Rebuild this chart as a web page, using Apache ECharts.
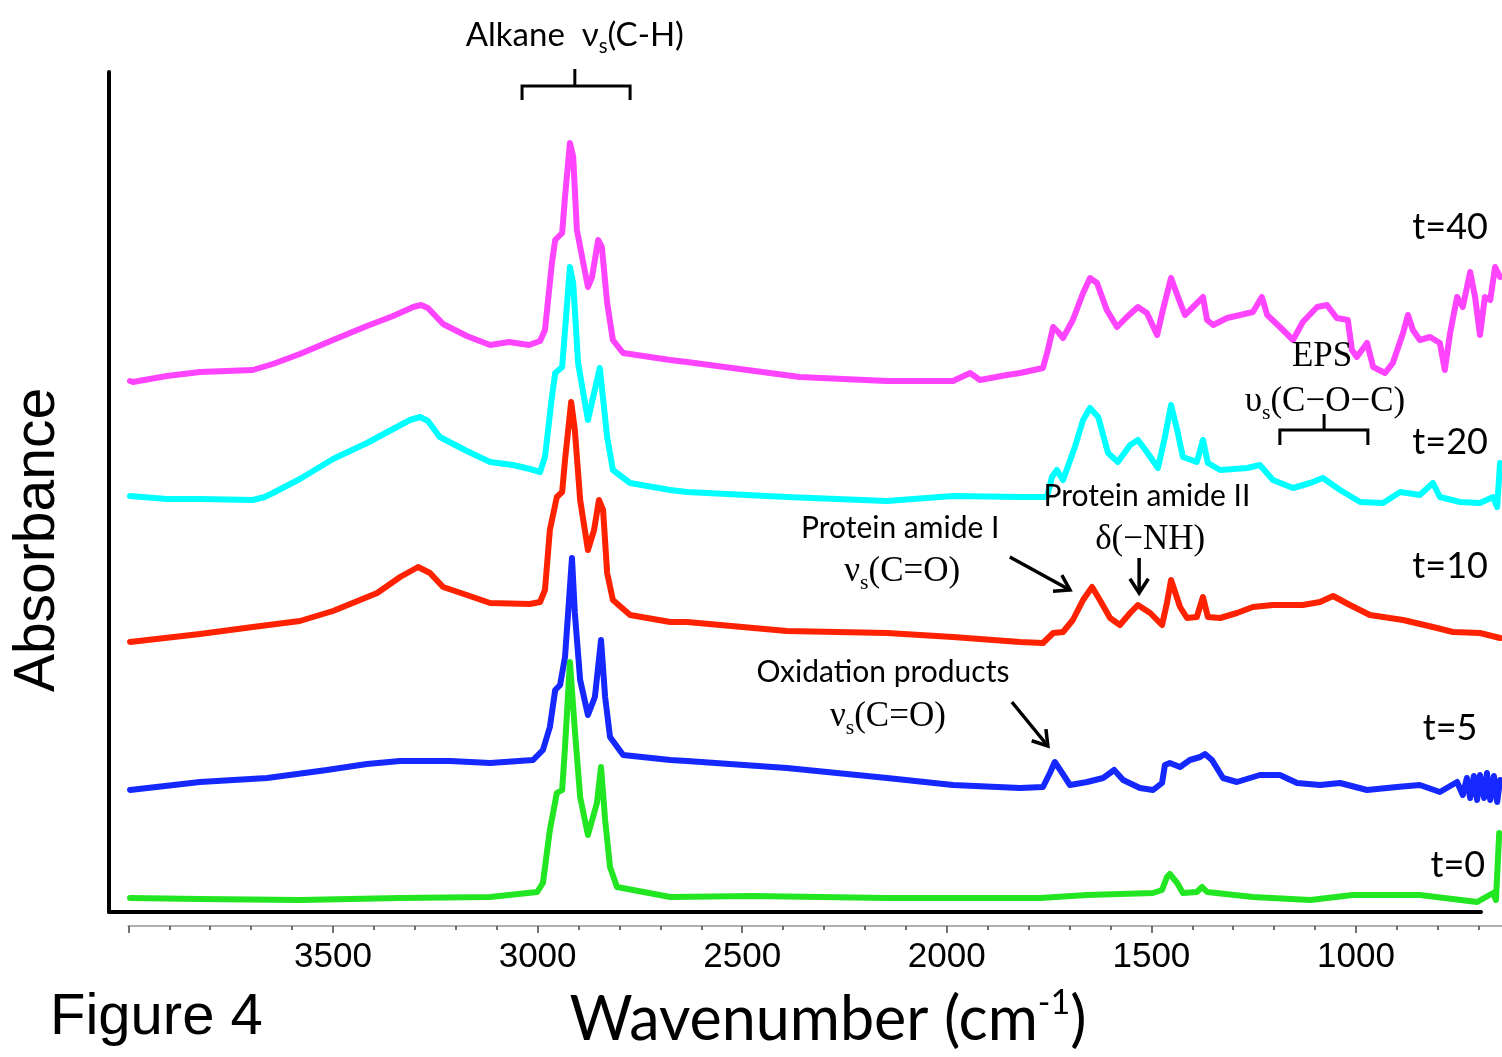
<!DOCTYPE html>
<html>
<head>
<meta charset="utf-8">
<script src="https://cdn.jsdelivr.net/npm/echarts@6/dist/echarts.min.js"></script>
<style>
html,body{margin:0;padding:0;background:#fff;}
#c{width:1502px;height:1057px;}
</style>
</head>
<body>
<div id="c"></div>
<script>
// ---- Data: [wavenumber (cm-1), absorbance (offset, a.u.)] ----
const xTickLabels = [3500, 3000, 2500, 2000, 1500, 1000];

const t40 = [[3996,5.31],[3989,5.30],[3906,5.36],[3825,5.40],[3696,5.42],[3647,5.48],[3581,5.58],[3500,5.72],[3417,5.86],[3353,5.96],[3304,6.05],[3285,6.07],[3268,6.04],[3231,5.88],[3173,5.76],[3116,5.67],[3070,5.70],[3021,5.67],[2994,5.71],[2982,5.82],[2965,6.49],[2957,6.72],[2940,6.79],[2933,7.15],[2921,7.69],[2913,7.55],[2904,6.82],[2877,6.25],[2867,6.35],[2852,6.72],[2843,6.65],[2830,6.09],[2816,5.72],[2791,5.59],[2676,5.52],[2635,5.50],[2359,5.35],[2146,5.31],[1985,5.31],[1943,5.39],[1919,5.32],[1853,5.37],[1821,5.39],[1765,5.44],[1753,5.62],[1740,5.85],[1728,5.80],[1716,5.74],[1692,5.92],[1667,6.19],[1650,6.34],[1633,6.29],[1609,6.02],[1584,5.85],[1560,5.95],[1533,6.05],[1511,5.99],[1486,5.77],[1472,6.02],[1452,6.34],[1435,6.15],[1418,5.97],[1398,6.05],[1374,6.15],[1364,5.92],[1349,5.87],[1315,5.94],[1283,5.97],[1252,6.00],[1230,6.15],[1217,5.97],[1186,5.85],[1154,5.72],[1130,5.90],[1095,6.05],[1071,6.07],[1047,5.94],[1020,5.92],[1010,5.62],[998,5.55],[973,5.69],[958,5.45],[929,5.39],[910,5.49],[885,5.79],[873,5.97],[861,5.82],[844,5.72],[819,5.75],[795,5.69],[783,5.42],[770,5.79],[753,6.15],[739,6.05],[721,6.40],[709,6.15],[697,5.77],[685,6.15],[672,6.12],[660,6.45],[648,6.35]];

const t20 = [[3996,4.16],[3906,4.13],[3825,4.13],[3696,4.12],[3667,4.15],[3647,4.19],[3581,4.33],[3500,4.53],[3417,4.69],[3353,4.83],[3312,4.92],[3287,4.95],[3268,4.91],[3239,4.75],[3173,4.61],[3116,4.50],[3060,4.47],[3019,4.43],[2994,4.40],[2982,4.55],[2965,5.15],[2957,5.39],[2940,5.45],[2933,5.82],[2921,6.45],[2913,6.29],[2901,5.49],[2877,4.92],[2848,5.44],[2830,4.75],[2816,4.42],[2774,4.29],[2676,4.22],[2635,4.20],[2391,4.15],[2146,4.11],[1985,4.16],[1821,4.15],[1755,4.15],[1743,4.35],[1731,4.42],[1716,4.32],[1687,4.65],[1667,4.92],[1650,5.04],[1630,4.95],[1606,4.59],[1582,4.50],[1552,4.67],[1533,4.72],[1511,4.60],[1484,4.44],[1467,4.75],[1452,5.07],[1437,4.82],[1423,4.55],[1389,4.50],[1374,4.72],[1362,4.49],[1332,4.42],[1266,4.44],[1235,4.47],[1203,4.32],[1154,4.24],[1112,4.29],[1081,4.34],[1039,4.22],[990,4.10],[934,4.09],[892,4.20],[844,4.17],[812,4.29],[795,4.15],[746,4.10],[697,4.09],[665,4.15],[655,4.05],[648,4.49]];

const t10 = [[3996,2.70],[3825,2.78],[3696,2.85],[3581,2.91],[3500,3.01],[3392,3.19],[3336,3.35],[3292,3.45],[3263,3.39],[3231,3.25],[3173,3.17],[3116,3.09],[3019,3.08],[2994,3.10],[2982,3.22],[2970,3.82],[2953,4.15],[2940,4.20],[2933,4.52],[2918,5.10],[2909,4.82],[2896,4.12],[2877,3.62],[2862,3.82],[2850,4.12],[2840,4.02],[2830,3.39],[2816,3.12],[2774,2.97],[2676,2.90],[2635,2.90],[2391,2.81],[2146,2.79],[1985,2.75],[1821,2.70],[1765,2.69],[1740,2.79],[1716,2.80],[1692,2.92],[1667,3.12],[1645,3.25],[1626,3.12],[1601,2.94],[1577,2.87],[1552,2.99],[1533,3.07],[1503,2.99],[1474,2.87],[1462,3.09],[1452,3.32],[1430,3.05],[1413,2.94],[1389,2.95],[1374,3.15],[1362,2.95],[1332,2.94],[1291,2.99],[1252,3.05],[1203,3.07],[1130,3.07],[1088,3.10],[1056,3.16],[1015,3.07],[966,2.97],[885,2.92],[812,2.85],[763,2.80],[697,2.79],[648,2.74]];

const t5 = [[3996,1.22],[3825,1.30],[3661,1.34],[3515,1.42],[3417,1.48],[3336,1.51],[3214,1.51],[3116,1.49],[3011,1.52],[2987,1.62],[2970,1.85],[2957,2.22],[2945,2.27],[2933,2.55],[2916,3.54],[2909,2.99],[2896,2.32],[2877,1.97],[2860,2.15],[2845,2.72],[2835,2.15],[2823,1.75],[2791,1.57],[2676,1.52],[2635,1.51],[2391,1.44],[2146,1.34],[1985,1.27],[1821,1.24],[1765,1.25],[1748,1.39],[1736,1.50],[1718,1.39],[1699,1.27],[1657,1.30],[1618,1.34],[1591,1.42],[1569,1.32],[1528,1.24],[1496,1.22],[1474,1.29],[1467,1.47],[1455,1.49],[1430,1.45],[1406,1.52],[1381,1.55],[1369,1.58],[1352,1.52],[1325,1.34],[1291,1.30],[1235,1.37],[1186,1.37],[1144,1.29],[1088,1.27],[1039,1.29],[973,1.22],[900,1.25],[844,1.27],[795,1.20],[753,1.30],[739,1.17],[729,1.34],[721,1.14],[712,1.36],[704,1.12],[697,1.37],[687,1.14],[680,1.39],[672,1.12],[663,1.36],[655,1.10],[648,1.32]];

const t0 = [[3996,0.14],[3825,0.13],[3581,0.12],[3336,0.14],[3116,0.15],[3001,0.20],[2987,0.29],[2970,0.82],[2953,1.19],[2940,1.22],[2933,1.65],[2921,2.50],[2909,1.82],[2896,1.15],[2877,0.77],[2855,1.09],[2845,1.45],[2835,0.92],[2823,0.45],[2806,0.25],[2676,0.15],[2474,0.16],[2146,0.14],[1772,0.14],[1657,0.17],[1496,0.19],[1474,0.22],[1462,0.35],[1455,0.38],[1437,0.29],[1423,0.19],[1389,0.20],[1376,0.25],[1364,0.20],[1252,0.15],[1112,0.12],[1008,0.17],[844,0.17],[704,0.10],[665,0.19],[658,0.12],[650,0.79]];

const seriesNames = ['t=40', 't=20', 't=10', 't=5', 't=0'];
const seriesData = [t40, t20, t10, t5, t0];
const seriesColors = ['#ff44ff', '#00ffff', '#ff2200', '#1428ff', '#22e622'];

const chart = echarts.init(document.getElementById('c'), null, {renderer: 'canvas'});

const option = {
  animation: false,
  backgroundColor: '#ffffff',
  grid: [
    {left: 128.4, width: 1432.2, top: 72, height: 840, outerBoundsMode: 'none', containLabel: false},
    {left: 109, width: 1372, top: 72, height: 840, outerBoundsMode: 'none', containLabel: false}
  ],
  xAxis: [
    {
      gridIndex: 0, type: 'value', inverse: true, min: 500, max: 4000, interval: 500,
      offset: 14,
      axisLine: {show: true, onZero: false, lineStyle: {color: '#b0b0b0', width: 2}},
      axisTick: {show: true, length: 7, lineStyle: {color: '#444', width: 1.5}},
      minorTick: {show: true, splitNumber: 5, length: 4, lineStyle: {color: '#444', width: 1.5}},
      splitLine: {show: false}, minorSplitLine: {show: false},
      axisLabel: {
        margin: 14, color: '#000', fontSize: 35, fontFamily: 'Liberation Sans',
        formatter: v => xTickLabels.indexOf(v) >= 0 ? String(v) : ''
      }
    },
    {
      gridIndex: 1, type: 'value', min: 0, max: 1,
      axisLine: {show: true, onZero: false, lineStyle: {color: '#000', width: 4}},
      axisTick: {show: false}, axisLabel: {show: false}, splitLine: {show: false}
    }
  ],
  yAxis: [
    {gridIndex: 0, type: 'value', min: 0, max: 8.4, show: false},
    {
      gridIndex: 1, type: 'value', min: 0, max: 1,
      axisLine: {show: true, onZero: false, lineStyle: {color: '#000', width: 4}},
      axisTick: {show: false}, axisLabel: {show: false}, splitLine: {show: false}
    }
  ],
  series: seriesData.map((d, i) => ({
    name: seriesNames[i], type: 'line', xAxisIndex: 0, yAxisIndex: 0,
    data: d, showSymbol: false, symbol: 'none', smooth: false, clip: false,
    lineStyle: {color: seriesColors[i], width: 6, join: 'round', cap: 'round'},
    z: 2 + i
  }))
};
chart.setOption(option);

// ---- Annotations anchored in data coordinates ----
const P = (wn, v) => chart.convertToPixel({seriesIndex: 0}, [wn, v]);
const SANS = 'Lato';
const SERIF = 'Liberation Serif';

function txt(p, text, rich, extra) {
  return Object.assign({
    type: 'text', x: p[0], y: p[1], z: 100,
    style: {text: text, rich: rich, fill: '#000', align: 'center', verticalAlign: 'middle',
            textAlign: 'center', textVerticalAlign: 'middle'}
  }, extra || {});
}
function poly(points, w) {
  return {type: 'polyline', z: 100, shape: {points: points},
          style: {stroke: '#000', lineWidth: w || 3, fill: null, lineJoin: 'miter'}};
}
function arrow(p0, p1) {
  const ang = Math.atan2(p1[1] - p0[1], p1[0] - p0[0]);
  const L = 17, a = Math.PI / 5.5;
  const h1 = [p1[0] - L * Math.cos(ang - a), p1[1] - L * Math.sin(ang - a)];
  const h2 = [p1[0] - L * Math.cos(ang + a), p1[1] - L * Math.sin(ang + a)];
  return [poly([p0, p1], 3.5), poly([h1, p1, h2], 3.5)];
}
function bracket(wL, wR, wC, vEnd, vBar, vTop) {
  const a = P(wL, vEnd), b = P(wL, vBar), c = P(wR, vBar), d = P(wR, vEnd);
  const m0 = P(wC, vBar), m1 = P(wC, vTop);
  return [poly([a, b, c, d], 3), poly([m0, m1], 3)];
}

const sansRich = (size) => ({
  a: {fontFamily: SANS, fontSize: size, lineHeight: size * 1.3, fill: '#000'},
  s: {fontFamily: SANS, fontSize: size * 0.62, lineHeight: size * 0.62, verticalAlign: 'bottom', fill: '#000'}
});
const serifRich = (size) => ({
  a: {fontFamily: SERIF, fontSize: size, lineHeight: size * 1.3, fill: '#000'},
  s: {fontFamily: SERIF, fontSize: size * 0.62, lineHeight: size * 0.62, verticalAlign: 'bottom', fill: '#000'}
});

const g = [];
// Alkane
g.push(txt(P(2909, 8.77), '{a|Alkane  ν}{s|s}{a|(C-H)}', sansRich(33)));
g.push(...bracket(3038, 2774, 2909, 8.12, 8.26, 8.43));
// EPS
g.push(txt(P(1083, 5.55), '{a|EPS}', serifRich(35)));
g.push(txt(P(1076, 5.10), '{a|υ}{s|s}{a|(C−O−C)}', serifRich(35)));
g.push(...bracket(1186, 971, 1078, 4.67, 4.82, 4.98));
// Protein amide II
g.push(txt(P(1511, 4.16), '{a|Protein amide II}', sansRich(30)));
g.push(txt(P(1503, 3.72), '{a|δ(−NH)}', serifRich(35)));
g.push(...arrow(P(1530, 3.54), P(1530, 3.19)));
// Protein amide I
g.push(txt(P(2114, 3.84), '{a|Protein amide I}', sansRich(30)));
g.push(txt(P(2109, 3.40), '{a|ν}{s|s}{a|(C=O)}', serifRich(35)));
g.push(...arrow(P(1846, 3.55), P(1699, 3.22)));
// Oxidation products
g.push(txt(P(2156, 2.40), '{a|Oxidation products}', sansRich(30)));
g.push(txt(P(2144, 1.95), '{a|ν}{s|s}{a|(C=O)}', serifRich(35)));
g.push(...arrow(P(1841, 2.10), P(1753, 1.66)));
// Series labels
const labelAnchors = [[770, 6.85], [770, 4.70], [770, 3.46], [770, 1.84], [751, 0.47]];
labelAnchors.forEach((a, i) => g.push(txt(P(a[0], a[1]), '{a|' + seriesNames[i] + '}', sansRich(36))));

// Axis titles and figure label
g.push({type: 'text', x: 38, y: 540, rotation: Math.PI / 2, z: 100,
  style: {text: 'Absorbance', fontFamily: 'Liberation Sans', fontSize: 57, fill: '#000',
          align: 'center', verticalAlign: 'middle', textAlign: 'center', textVerticalAlign: 'middle'}});
g.push({type: 'text', x: 50, y: 1018, z: 100,
  style: {text: 'Figure 4', fontFamily: 'Liberation Sans', fontSize: 58, fill: '#000',
          align: 'left', verticalAlign: 'middle', textAlign: 'left', textVerticalAlign: 'middle'}});
g.push({type: 'text', x: 828, y: 1020, z: 100,
  style: {text: '{a|Wavenumber (cm}{s|-1}{a|)}', fill: '#000',
          align: 'center', verticalAlign: 'middle', textAlign: 'center', textVerticalAlign: 'middle',
          rich: {
            a: {fontFamily: SANS, fontSize: 61, lineHeight: 68, fill: '#000'},
            s: {fontFamily: SANS, fontSize: 34, lineHeight: 42, verticalAlign: 'top', fill: '#000'}
          }}});

chart.setOption({graphic: {elements: g}});
</script>
</body>
</html>
